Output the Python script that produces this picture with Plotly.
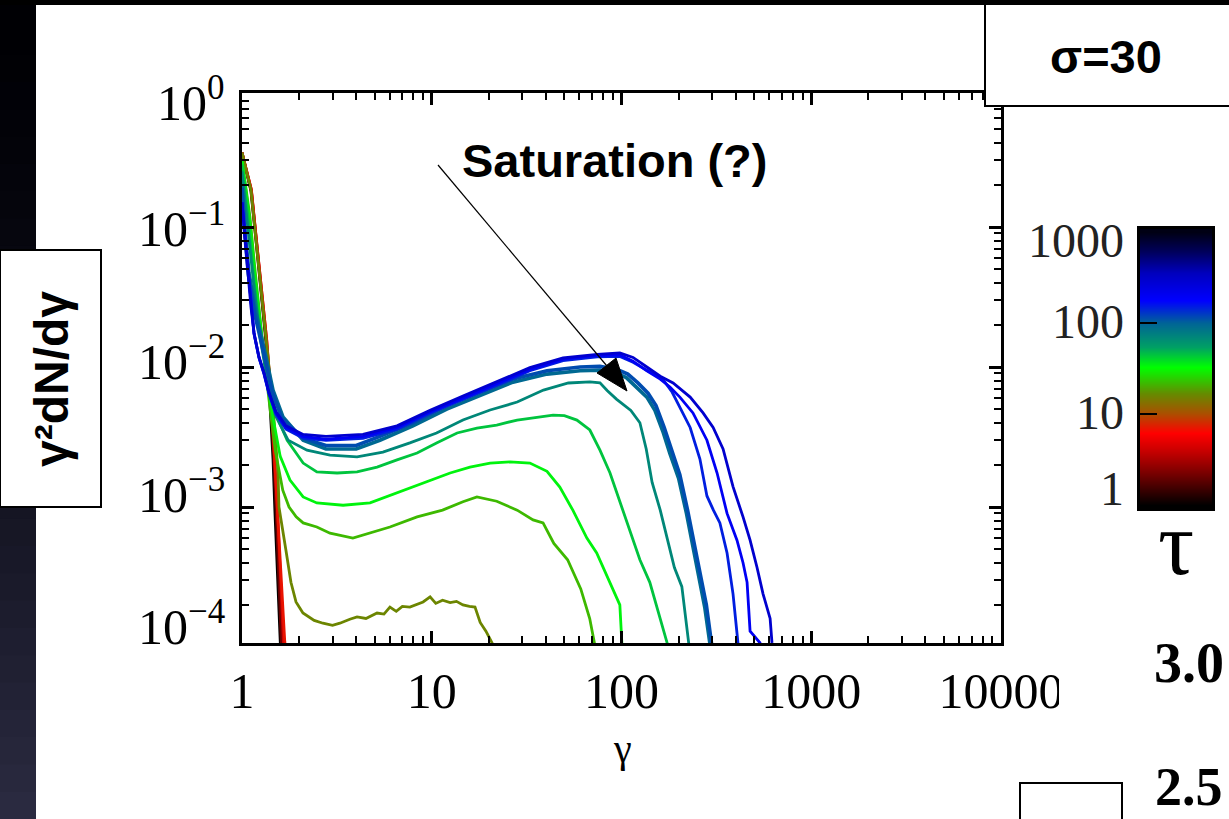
import math
import plotly.graph_objects as go
from plotly.colors import sample_colorscale

W, H = 1229, 819

# ---------------- data ----------------
tau_values = [1, 2, 4, 7, 16, 22, 35, 45, 70, 95, 115, 150, 200, 300]

gamma_tau1 = [1.0, 1.115, 1.185, 1.259, 1.338, 1.40, 1.457, 1.49, 1.53, 1.566, 1.60]
dnd_tau1 = [0.34, 0.18, 0.08, 0.035, 0.015, 0.0058, 0.0022, 0.00095, 0.00042, 0.00019, 0.00009]

gamma_tau2 = [1.0, 1.12, 1.19, 1.265, 1.345, 1.41, 1.47, 1.51, 1.55, 1.585, 1.62]
dnd_tau2 = [0.34, 0.18, 0.08, 0.035, 0.015, 0.006, 0.0023, 0.001, 0.00045, 0.0002, 0.00009]

gamma_tau4 = [1.0, 1.12, 1.19, 1.27, 1.35, 1.42, 1.48, 1.53, 1.57, 1.61, 1.65, 1.67]
dnd_tau4 = [0.34, 0.185, 0.082, 0.036, 0.0155, 0.0062, 0.0025, 0.0011, 0.0005, 0.00022, 0.0001, 0.00008]

gamma_tau7 = [1.0, 1.12, 1.19, 1.27, 1.35, 1.42, 1.47, 1.51, 1.548, 1.605, 1.644, 1.68, 1.72]
dnd_tau7 = [0.34, 0.185, 0.082, 0.036, 0.0155, 0.0065, 0.0028, 0.0013, 0.00077, 0.00034, 0.00019, 0.00011, 0.00008]

gamma_tau16 = [1.0, 1.115, 1.185, 1.259, 1.338, 1.457, 1.548, 1.566, 1.705, 1.811,
               1.926, 2.095, 2.4, 2.67, 3.0, 3.28, 3.7, 4.04, 4.5, 5.15,
               5.6, 6.02, 6.5, 7.0, 7.67, 8.3, 9.0, 9.8, 10.5, 11.4,
               12.5, 13.5, 14.6, 15.8, 16.9, 18.0, 19.3, 20.8, 22.0]
dnd_tau16 = [0.34, 0.184, 0.081, 0.0355, 0.0156, 0.0052, 0.00175, 0.0010, 0.00049, 0.00029,
             0.00021, 0.000175, 0.000155, 0.000148, 0.000143, 0.000148, 0.000158, 0.000164, 0.00016, 0.000175,
             0.000172, 0.000193, 0.00018, 0.000195, 0.000193, 0.0002, 0.00021, 0.000228, 0.000205, 0.000216,
             0.000208, 0.000212, 0.0002, 0.000195, 0.000193, 0.00015, 0.00013, 0.000107, 0.00008]

gamma_tau22 = [1.0, 1.1, 1.17, 1.25, 1.33, 1.42, 1.5, 1.64, 1.77, 1.93,
               2.1, 2.48, 2.91, 3.84, 4.73, 6.02, 8.37, 11.4, 14.6, 17.3,
               22.0, 28.2, 34.2, 38.6, 44.0, 52.0, 61.0, 68.0, 72.0, 75.0]
dnd_tau22 = [0.3, 0.12, 0.05, 0.02, 0.0095, 0.0045, 0.0025, 0.00132, 0.001, 0.00085,
             0.00077, 0.00072, 0.00065, 0.0006, 0.00065, 0.00072, 0.00085, 0.00095, 0.00109, 0.00118,
             0.0011, 0.00095, 0.00081, 0.00077, 0.00055, 0.00042, 0.00026, 0.00016, 0.000107, 0.00008]

gamma_tau35 = [1.0, 1.1, 1.17, 1.25, 1.33, 1.45, 1.59, 1.79, 2.1, 2.48,
               3.41, 4.73, 6.56, 8.98, 12.5, 15.9, 20.3, 25.8, 32.9, 40.5,
               47.3, 55.4, 65.7, 74.0, 80.0, 90.0, 98.0, 100.0, 101.5]
dnd_tau35 = [0.3, 0.11, 0.045, 0.019, 0.0095, 0.0045, 0.0023, 0.00156, 0.00118, 0.00107,
             0.00103, 0.00107, 0.00126, 0.00148, 0.00175, 0.00193, 0.00206, 0.0021, 0.00206, 0.0018,
             0.00139, 0.00095, 0.0006, 0.00047, 0.00037, 0.00026, 0.0002, 0.00012, 0.00008]

gamma_tau45 = [1.0, 1.09, 1.16, 1.25, 1.35, 1.53, 1.73, 2.1, 2.48, 3.17,
               4.04, 5.15, 6.56, 8.37, 10.6, 13.6, 17.3, 22.0, 28.2, 36.0,
               43.6, 50.0, 58.2, 68.1, 77.0, 87.0, 98.0, 110.0, 125.0, 141.0,
               159.0, 174.0, 180.0]
dnd_tau45 = [0.28, 0.1, 0.04, 0.017, 0.009, 0.0044, 0.003, 0.00206, 0.00178, 0.00175,
             0.00178, 0.00193, 0.00217, 0.00243, 0.00287, 0.00338, 0.00366, 0.00385, 0.00418, 0.0044,
             0.00454, 0.0045, 0.00418, 0.00355, 0.00255, 0.00175, 0.0011, 0.0007, 0.00042, 0.00029,
             0.000164, 0.000107, 0.00008]

gamma_tau70 = [1.0, 1.08, 1.15, 1.24, 1.34, 1.5, 1.75, 2.2, 2.91, 4.04,
               5.53, 7.67, 10.6, 14.6, 20.3, 28.2, 38.8, 52.5, 68.1, 77.0,
               84.0, 94.0, 112.0, 125.0, 135.0, 145.0, 160.0, 175.0, 190.0, 208.0,
               218.0, 226.0, 232.0]
dnd_tau70 = [0.25, 0.09, 0.04, 0.017, 0.009, 0.0045, 0.003, 0.00255, 0.00235, 0.00228,
             0.00247, 0.00287, 0.00338, 0.00418, 0.00493, 0.00562, 0.00685, 0.00769, 0.00782, 0.0077,
             0.0068, 0.0059, 0.0049, 0.004, 0.0026, 0.0015, 0.00095, 0.00058, 0.00037, 0.00027,
             0.00016, 0.000107, 0.00008]

gamma_tau95 = [1.0, 1.04, 1.088, 1.185, 1.338, 1.457, 1.644, 2.1, 2.77, 4.0,
               5.33, 7.96, 12.0, 18.0, 26.8, 40.5, 60.5, 77.0, 95.0, 106.0,
               120.0, 136.0, 150.0, 166.0, 180.0, 200.0, 220.0, 238.0, 255.0, 275.0,
               292.0, 300.0]
dnd_tau95 = [0.2, 0.09, 0.047, 0.0243, 0.0118, 0.00685, 0.0044, 0.003, 0.0026, 0.0026,
             0.003, 0.0038, 0.005, 0.0063, 0.0078, 0.0089, 0.0094, 0.0095, 0.009, 0.0084,
             0.0072, 0.0061, 0.0049, 0.0034, 0.0024, 0.0016, 0.0009, 0.00053, 0.00033, 0.00019,
             0.000107, 0.00008]

gamma_tau115 = [1.0, 1.035, 1.08, 1.17, 1.32, 1.44, 1.62, 2.1, 2.77, 4.0,
                5.33, 7.96, 12.0, 18.0, 26.8, 40.5, 60.5, 77.0, 95.0, 108.0,
                122.0, 138.0, 152.0, 168.0, 183.0, 203.0, 223.0, 242.0, 260.0, 280.0,
                298.0, 306.0]
dnd_tau115 = [0.19, 0.088, 0.046, 0.0235, 0.0115, 0.0067, 0.0043, 0.0031, 0.00275, 0.00275,
              0.0032, 0.004, 0.0053, 0.0066, 0.0082, 0.0094, 0.01, 0.0101, 0.0096, 0.0089,
              0.0077, 0.0065, 0.0053, 0.0037, 0.0026, 0.0017, 0.00095, 0.00055, 0.00034, 0.0002,
              0.000107, 0.00008]

gamma_tau150 = [1.0, 1.024, 1.075, 1.115, 1.157, 1.229, 1.306, 1.388, 1.51, 1.705,
                2.1, 2.77, 4.34, 6.56, 9.8, 14.6, 22.0, 32.9, 49.2, 74.4,
                98.0, 115.0, 136.0, 150.0, 166.0, 185.0, 203.0, 230.0, 259.0, 282.0,
                305.0, 330.0, 360.0, 387.0, 406.0, 411.0, 420.0]
dnd_tau150 = [0.15, 0.105, 0.046, 0.0265, 0.0172, 0.0116, 0.0089, 0.0064, 0.0046, 0.0036,
              0.0031, 0.003, 0.0031, 0.0036, 0.0047, 0.0059, 0.0074, 0.0094, 0.0111, 0.0118,
              0.0119, 0.0108, 0.0095, 0.0088, 0.0081, 0.0066, 0.0052, 0.0037, 0.0022, 0.0012,
              0.00095, 0.00077, 0.00047, 0.00024, 0.000126, 0.000107, 0.00008]

gamma_tau200 = [1.0, 1.024, 1.075, 1.115, 1.157, 1.229, 1.306, 1.388, 1.51, 1.705,
                2.1, 2.77, 4.34, 6.56, 9.8, 14.6, 22.0, 32.9, 49.2, 74.4,
                98.0, 115.0, 136.0, 160.0, 180.0, 203.0, 238.0, 282.0, 319.0, 360.0,
                406.0, 437.0, 459.0, 476.0, 500.0, 537.0, 550.0]
dnd_tau200 = [0.15, 0.106, 0.0465, 0.0267, 0.0174, 0.0117, 0.009, 0.0065, 0.0047, 0.0037,
              0.0032, 0.00305, 0.0032, 0.0037, 0.0048, 0.006, 0.0076, 0.0096, 0.0114, 0.0121,
              0.0122, 0.011, 0.0094, 0.0082, 0.0072, 0.0061, 0.0047, 0.003, 0.00175, 0.0009,
              0.00058, 0.0004, 0.00029, 0.00013, 0.00012, 0.000107, 0.00008]

gamma_tau300 = [1.0, 1.024, 1.075, 1.115, 1.157, 1.229, 1.306, 1.388, 1.51, 1.705,
                2.1, 2.77, 4.34, 6.56, 9.8, 14.6, 22.0, 32.9, 49.2, 74.4,
                98.0, 115.0, 136.0, 160.0, 187.0, 230.0, 269.0, 304.0, 343.0, 387.0,
                437.0, 476.0, 518.0, 557.0, 607.0, 621.0, 640.0]
dnd_tau300 = [0.15, 0.107, 0.047, 0.0268, 0.0175, 0.0118, 0.0091, 0.0066, 0.0048, 0.0038,
              0.0033, 0.0032, 0.0033, 0.0038, 0.0049, 0.0062, 0.0078, 0.0099, 0.0116, 0.0123,
              0.0126, 0.0117, 0.01, 0.0086, 0.0077, 0.0061, 0.0047, 0.0037, 0.0026, 0.0014,
              0.00085, 0.00058, 0.00037, 0.00024, 0.00016, 0.000107, 0.00008]

x_tick_values = [1, 10, 100, 1000, 10000]
x_tick_labels = ["1", "10", "100", "1000", "10000"]
y_tick_values = [1e-4, 1e-3, 1e-2, 1e-1, 1]
y_tick_labels = ["10<sup>0</sup>", "10<sup>−1</sup>", "10<sup>−2</sup>", "10<sup>−3</sup>", "10<sup>−4</sup>"]
colorbar_tau = [1, 10, 100, 1000]
colorbar_labels = ["1000", "100", "10", "1"]

# ---------------- styles ----------------
tau_colorscale = [
    [0.0, "rgb(0,0,0)"],
    [0.117, "rgb(120,0,0)"],
    [0.20, "rgb(200,0,0)"],
    [0.264, "rgb(255,0,0)"],
    [0.337, "rgb(170,80,0)"],
    [0.41, "rgb(100,140,0)"],
    [0.505, "rgb(0,255,0)"],
    [0.579, "rgb(0,160,100)"],
    [0.667, "rgb(0,100,150)"],
    [0.75, "rgb(0,0,255)"],
    [0.85, "rgb(0,0,190)"],
    [0.93, "rgb(0,0,90)"],
    [1.0, "rgb(0,0,20)"],
]

curves = [
    (1, gamma_tau1, dnd_tau1), (2, gamma_tau2, dnd_tau2), (4, gamma_tau4, dnd_tau4),
    (7, gamma_tau7, dnd_tau7), (16, gamma_tau16, dnd_tau16), (22, gamma_tau22, dnd_tau22),
    (35, gamma_tau35, dnd_tau35), (45, gamma_tau45, dnd_tau45), (70, gamma_tau70, dnd_tau70),
    (95, gamma_tau95, dnd_tau95), (115, gamma_tau115, dnd_tau115), (150, gamma_tau150, dnd_tau150),
    (200, gamma_tau200, dnd_tau200), (300, gamma_tau300, dnd_tau300),
]
thick_taus = [95, 115]

SERIF = "Liberation Serif"
SANS = "Liberation Sans"


def px(x):
    return x / W


def py(y):
    return 1 - y / H


fig = go.Figure()

for tau, g, n in curves:
    col = sample_colorscale(tau_colorscale, [math.log10(tau) / 3])[0]
    lw = 3.6 if tau in thick_taus else 2.8
    fig.add_trace(go.Scatter(x=g, y=n, mode="lines", line=dict(color=col, width=lw),
                             hoverinfo="skip", showlegend=False, xaxis="x", yaxis="y"))

# colour bar (gradient through log10 tau)
log_tau_bar = [math.log10(t) for t in colorbar_tau]
fig.add_trace(go.Heatmap(z=[[v, v] for v in log_tau_bar], x=[0, 1], y=log_tau_bar,
                         colorscale=tau_colorscale, zmin=0, zmax=3, zsmooth="best",
                         showscale=False, hoverinfo="skip", xaxis="x3", yaxis="y3"))

x_minor = [m * 10 ** k for k in range(0, 4) for m in range(2, 10)]
y_minor = [m * 10 ** k for k in range(-4, 0) for m in range(2, 10)]

xdom = [242 / W, 1001 / W]
ydom = [(H - 643) / H, (H - 93) / H]
common = dict(showgrid=False, zeroline=False, tickcolor="black", automargin=False)

fig.update_layout(
    width=W, height=H, margin=dict(l=0, r=0, t=0, b=0, pad=0, autoexpand=False),
    paper_bgcolor="white", plot_bgcolor="white", showlegend=False, hovermode=False,
    xaxis=dict(type="log", range=[0, 4], domain=xdom, anchor="y",
               tickvals=x_tick_values, ticktext=x_tick_labels, ticks="inside", ticklen=12, tickwidth=2.5,
               showline=True, linewidth=3, linecolor="black", mirror="ticks",
               tickfont=dict(family=SERIF, size=50, color="black"), ticklabelstandoff=2, **common),
    xaxis2=dict(type="log", range=[0, 4], domain=xdom, anchor="y", overlaying="x",
                tickvals=x_minor, ticks="inside", ticklen=7, tickwidth=2, mirror="ticks",
                showticklabels=False, showline=False, **common),
    yaxis=dict(type="log", range=[-3.971, -0.043], domain=ydom, anchor="x",
               tickvals=y_tick_values, ticks="inside", ticklen=12, tickwidth=2.5,
               showline=True, linewidth=3, linecolor="black", mirror="ticks",
               showticklabels=False, **common),
    yaxis2=dict(type="log", range=[-3.971, -0.043], domain=ydom, anchor="x", overlaying="y",
                tickvals=y_minor, ticks="inside", ticklen=7, tickwidth=2, mirror="ticks",
                showticklabels=False, showline=False, **common),
    xaxis3=dict(domain=[1140 / W, 1212 / W], range=[-0.5, 1.5], anchor="y3",
                showline=True, linewidth=3, linecolor="black", mirror=True,
                showticklabels=False, ticks="", **common),
    yaxis3=dict(domain=[(H - 508) / H, (H - 229) / H], range=[-0.033, 3.033], anchor="x3", side="left",
                tickvals=[1, 2], ticks="inside", ticklen=17, tickwidth=2,
                showline=True, linewidth=3, linecolor="black", mirror=True,
                showticklabels=False, **common),
)
# empty trace so the overlay (minor-tick) axes are realised
fig.add_trace(go.Scatter(x=[None], y=[None], xaxis="x2", yaxis="y2", showlegend=False, hoverinfo="skip"))

shapes = []
# dark slide strip at left (vertical gradient)
nb = 30
for i in range(nb):
    t = (i + 0.5) / nb
    c = (int(44 * t ** 1.5), int(44 * t ** 1.5), int(4 + 62 * t ** 1.4))
    shapes.append(dict(type="rect", xref="paper", yref="paper", x0=0, x1=px(36),
                       y0=py(i * H / nb), y1=py((i + 1) * H / nb + 1), line=dict(width=0),
                       fillcolor=f"rgb{c}", layer="below"))
# y-title box
shapes.append(dict(type="rect", xref="paper", yref="paper", x0=px(0), x1=px(101), y0=py(507), y1=py(250),
                   line=dict(color="black", width=2), fillcolor="white", layer="above"))
# sigma box
shapes.append(dict(type="rect", xref="paper", yref="paper", x0=px(985), x1=px(1235), y0=py(106), y1=py(3),
                   line=dict(color="black", width=2), fillcolor="white", layer="above"))
# small box bottom right
shapes.append(dict(type="rect", xref="paper", yref="paper", x0=px(1020), x1=px(1122), y0=py(825), y1=py(783),
                   line=dict(color="black", width=2), fillcolor="white", layer="above"))
# top black strip
shapes.append(dict(type="rect", xref="paper", yref="paper", x0=0, x1=1, y0=py(5), y1=1,
                   line=dict(width=0), fillcolor="black", layer="above"))
# clip of the last x tick label (as in the slide)
shapes.append(dict(type="rect", xref="paper", yref="paper", x0=px(1059), x1=px(1140), y0=py(725), y1=py(655),
                   line=dict(width=0), fillcolor="white", layer="above"))
# arrow
shapes.append(dict(type="line", xref="paper", yref="paper", x0=px(438), y0=py(165), x1=px(612), y1=py(372),
                   line=dict(color="black", width=1.2), layer="above"))
shapes.append(dict(type="path", xref="paper", yref="paper",
                   path=f"M {px(627)} {py(391)} L {px(597)} {py(373)} L {px(616)} {py(358)} Z",
                   fillcolor="black", line=dict(color="black", width=1), layer="above"))
fig.update_layout(shapes=shapes)

ann = []
# y tick labels
y_label_centers = [99, 225, 358, 491, 623]
for txt, yc in zip(y_tick_labels, y_label_centers):
    ann.append(dict(text=txt, x=px(227), y=py(yc), xref="paper", yref="paper", xanchor="right",
                    yanchor="middle", showarrow=False, font=dict(family=SERIF, size=50, color="black")))
# colour bar labels
for txt, yc in zip(colorbar_labels, [240, 322, 412, 488]):
    ann.append(dict(text=txt, x=px(1126), y=py(yc), xref="paper", yref="paper", xanchor="right",
                    yanchor="middle", showarrow=False, font=dict(family=SERIF, size=48, color="#222")))
ann += [
    dict(text="τ", x=px(1176), y=py(543), font=dict(family=SERIF, size=90, color="black")),
    dict(text="<b>3.0</b>", x=px(1189), y=py(663), font=dict(family=SERIF, size=56, color="black")),
    dict(text="<b>2.5</b>", x=px(1189), y=py(787), font=dict(family=SERIF, size=54, color="black")),
    dict(text="<b>σ=30</b>", x=px(1106), y=py(57), font=dict(family=SANS, size=47, color="black")),
    dict(text="<b>Saturation (?)</b>", x=px(614), y=py(161), font=dict(family=SANS, size=47, color="black")),
    dict(text="<b>γ²dN/dγ</b>", x=px(51), y=py(379), textangle=-90, font=dict(family=SANS, size=48, color="black")),
    dict(text="γ", x=px(622), y=py(748), font=dict(family=SERIF, size=40, color="black")),
]
for a in ann[-7:]:
    a.update(xref="paper", yref="paper", showarrow=False, xanchor="center", yanchor="middle")
fig.update_layout(annotations=ann)

fig.write_html("out.html", config={"displayModeBar": False},
               post_script="document.body.style.margin='0px';document.body.style.overflow='hidden';")
